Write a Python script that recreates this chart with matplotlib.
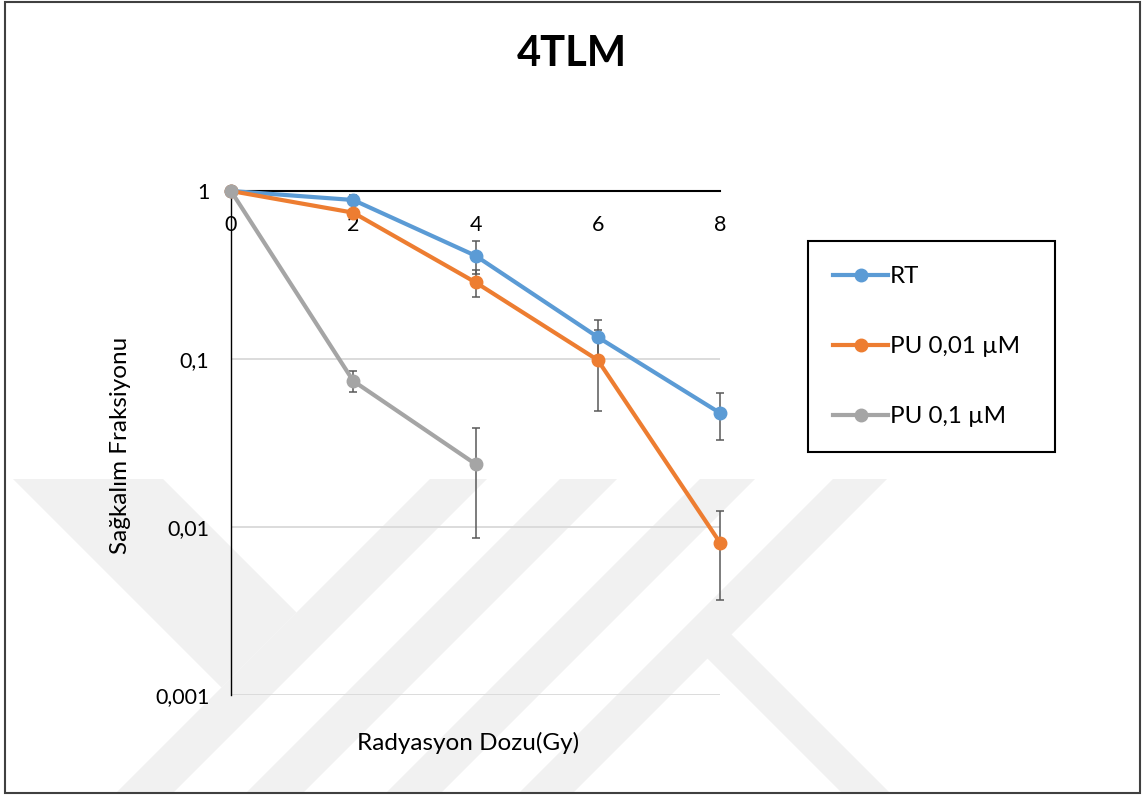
import matplotlib
matplotlib.use('Agg')
import matplotlib.pyplot as plt
from matplotlib.patches import Polygon, Rectangle
from matplotlib.ticker import NullLocator

# ---- data ----
doses = [0, 2, 4, 6, 8]
rt = [1.0, 0.884, 0.412, 0.135, 0.0477]
rt_err = [0.0, 0.063, 0.092, 0.036, 0.0148]
pu001 = [1.0, 0.743, 0.286, 0.0986, 0.00807]
pu001_err = [0.0, 0.0, 0.051, 0.0496, 0.0044]
pu01_doses = [0, 2, 4]
pu01 = [1.0, 0.074, 0.0237]
pu01_err = [0.0, 0.0108, 0.0151]

series_labels = ['RT', 'PU 0,01 µM', 'PU 0,1 µM']
colors = ['#5B9BD5', '#ED7D31', '#A5A5A5']
xtick_vals = [0, 2, 4, 6, 8]
xtick_labels = ['0', '2', '4', '6', '8']
ytick_vals = [1, 0.1, 0.01, 0.001]
ytick_labels = ['1', '0,1', '0,01', '0,001']
title = '4TLM'
xlabel = 'Radyasyon Dozu(Gy)'
ylabel = 'Sağkalım Fraksiyonu'

plt.rcParams['font.family'] = ['Lato', 'DejaVu Sans']

W, H = 1142, 795
fig = plt.figure(figsize=(W / 100, H / 100), dpi=100)
fig.patch.set_facecolor('white')


def px(x, y):
    return (x / W, 1 - y / H)


# ---- background watermark (faint) ----
wm_color = '#f1f1f1'
bands = [(430, 487), (560, 617), (700, 755), (833, 887)]
for a, b in bands:
    poly = [px(a, 479), px(b, 479), px(b - 314, 793), px(a - 314, 793)]
    fig.patches.append(Polygon(poly, closed=True, transform=fig.transFigure,
                               facecolor=wm_color, edgecolor='none', zorder=-10))
arm = [px(13, 479), px(163, 479), px(296.5, 612.5), px(221.5, 687.5)]
fig.patches.append(Polygon(arm, closed=True, transform=fig.transFigure,
                           facecolor=wm_color, edgecolor='none', zorder=-10))
leg = [px(680.5, 631.5), px(731.5, 634.5), px(890, 793), px(842, 793)]
fig.patches.append(Polygon(leg, closed=True, transform=fig.transFigure,
                           facecolor=wm_color, edgecolor='none', zorder=-10))

# ---- axes ----
ax = fig.add_axes([231 / W, 100 / H, 489 / W, 504 / H])
ax.set_facecolor('none')
ax.set_yscale('log')
ax.set_xlim(0, 8)
ax.set_ylim(0.001, 1)

ax.set_axisbelow(True)
ax.yaxis.grid(True, which='major', color='#d9d9d9', lw=1.3)
ax.xaxis.grid(False)

for s in ['right', 'bottom']:
    ax.spines[s].set_visible(False)
ax.spines['top'].set_color('black')
ax.spines['top'].set_linewidth(1.5)
ax.spines['left'].set_color('black')
ax.spines['left'].set_linewidth(1.0)

ax.set_yticks(ytick_vals, labels=ytick_labels)
ax.yaxis.set_minor_locator(NullLocator())
ax.tick_params(axis='y', length=0, pad=15.5, labelsize=15.5, labelcolor='black')

ax.xaxis.set_ticks_position('top')
ax.set_xticks(xtick_vals, labels=xtick_labels)
ax.tick_params(axis='x', length=0, pad=-32, labelsize=15.5, labeltop=True,
               labelbottom=False, labelcolor='black')

ax.xaxis.set_label_position('bottom')
ax.set_xlabel(xlabel, fontsize=17.5)
ax.xaxis.set_label_coords((468 - 231) / 489, (695 - 732) / 504)
ax.set_ylabel(ylabel, fontsize=17.5)
ax.yaxis.set_label_coords((131 - 231) / 489, (695 - 445) / 504)

# ---- error bars (below lines) ----
ekw = dict(fmt='none', ecolor='#595959', elinewidth=1.1, capsize=3,
           capthick=1.1, zorder=2, clip_on=False)
ax.errorbar(doses, rt, yerr=rt_err, **ekw)
ax.errorbar(doses, pu001, yerr=pu001_err, **ekw)
ax.errorbar(pu01_doses, pu01, yerr=pu01_err, **ekw)

# ---- lines ----
handles = []
for xs, ys, c, lab, z in [(doses, rt, colors[0], series_labels[0], 3),
                          (doses, pu001, colors[1], series_labels[1], 4),
                          (pu01_doses, pu01, colors[2], series_labels[2], 5)]:
    ln, = ax.plot(xs, ys, '-o', color=c, lw=3, ms=9, label=lab, zorder=z,
                  clip_on=False)
    handles.append(ln)

leg_ = ax.legend(handles, series_labels, loc='upper left',
                 bbox_to_anchor=(808 / W, 1 - 241 / H, (1055 - 808) / W, 0),
                 bbox_transform=fig.transFigure, mode='expand',
                 frameon=True, fancybox=False, edgecolor='black', framealpha=1,
                 fontsize=17.4, borderpad=1.05, labelspacing=2.02,
                 handlelength=2.27, handletextpad=0.08, borderaxespad=0)
leg_.get_frame().set_linewidth(1.5)

# ---- title ----
fig.text(572 / W, 1 - 54 / H, title, ha='center', va='center',
         fontsize=30, fontweight='bold')

# ---- outer border ----
fig.patches.append(Rectangle(px(5, 793), (1140 - 5) / W, (793 - 2) / H,
                             transform=fig.transFigure, fill=False,
                             edgecolor='#404040', lw=1.5, zorder=20))

fig.savefig('out.png', dpi=100)
